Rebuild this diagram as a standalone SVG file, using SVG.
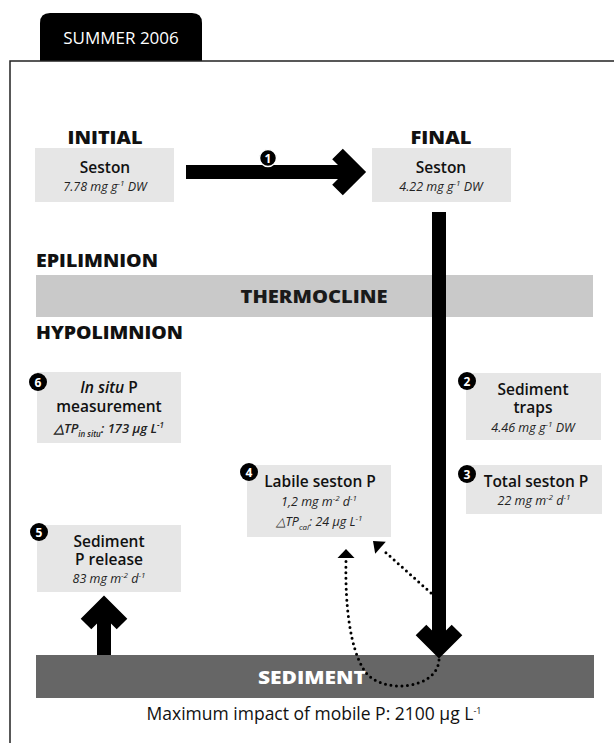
<svg xmlns="http://www.w3.org/2000/svg" width="614" height="743" viewBox="0 0 614 743">
<style>
text{font-family:"Open Sans","Liberation Sans",sans-serif;fill:#111}
.h{font-weight:800;font-size:17px}
.t{font-weight:600;font-size:15.5px;text-anchor:middle}
.v{font-style:italic;font-size:12.5px;text-anchor:middle;fill:#222}
.box{fill:#e6e6e6}
.num{fill:#fff;font-weight:700;font-size:12px;text-anchor:middle}
.chev{fill:none;stroke:#000;stroke-width:15;stroke-linejoin:miter;stroke-miterlimit:4}
.dot{fill:none;stroke:#000;stroke-width:3;stroke-linecap:round;stroke-dasharray:0 5.5}
</style>
<rect width="614" height="743" fill="#fff"/>
<g id="tab">
<path d="M40,61 V23 Q40,13 50,13 H192 Q202,13 202,23 V61 Z" fill="#000"/>
<text x="121" y="44" text-anchor="middle" style="fill:#fff;font-size:17px">SUMMER 2006</text>
</g>
<path id="frame" d="M10,743 V61 H614" fill="none" stroke="#222" stroke-width="1.5"/>
<g id="labels">
<text class="h" x="105" y="144" text-anchor="middle" textLength="75" lengthAdjust="spacingAndGlyphs">INITIAL</text>
<text class="h" x="441" y="144" text-anchor="middle" textLength="61" lengthAdjust="spacingAndGlyphs">FINAL</text>
<text class="h" x="36" y="267" textLength="122" lengthAdjust="spacingAndGlyphs">EPILIMNION</text>
<text class="h" x="36" y="339" textLength="147" lengthAdjust="spacingAndGlyphs">HYPOLIMNION</text>
</g>
<g id="thermocline">
<rect x="36" y="275" width="557" height="42" fill="#c9c9c9"/>
<text class="h" x="314" y="303" text-anchor="middle" textLength="147" lengthAdjust="spacingAndGlyphs" style="fill:#1a1a1a">THERMOCLINE</text>
</g>
<g id="sediment">
<rect x="36" y="655" width="558" height="43" fill="#666"/>
<text class="h" x="312" y="684" text-anchor="middle" textLength="108" lengthAdjust="spacingAndGlyphs" style="fill:#fff">SEDIMENT</text>
</g>
<g id="initial">
<rect class="box" x="35" y="148" width="139" height="54"/>
<text class="t" x="105" y="173">Seston</text>
<text class="v" x="105" y="191">7.78 mg g<tspan dy="-5" font-size="8">-1</tspan><tspan dy="5"> DW</tspan></text>
</g>
<g id="final">
<rect class="box" x="372" y="148" width="139" height="54"/>
<text class="t" x="441" y="173">Seston</text>
<text class="v" x="441" y="191">4.22 mg g<tspan dy="-5" font-size="8">-1</tspan><tspan dy="5"> DW</tspan></text>
</g>
<g id="insitu">
<rect class="box" x="37" y="372" width="144" height="71"/>
<text class="t" x="109" y="393"><tspan font-style="italic">In situ</tspan> P</text>
<text class="t" x="109" y="412">measurement</text>
<text class="v" x="109" y="433" style="font-weight:600;font-size:13px">△TP<tspan dy="4" font-size="8">in situ</tspan><tspan dy="-4">: 173 µg L</tspan><tspan dy="-5" font-size="8">-1</tspan></text>
<circle cx="38" cy="382" r="9" fill="#000"/>
<text class="num" x="38" y="386.5">6</text>
</g>
<g id="traps">
<rect class="box" x="466" y="373" width="135" height="67"/>
<text class="t" x="533" y="395">Sediment</text>
<text class="t" x="533" y="413">traps</text>
<text class="v" x="533" y="432">4.46 mg g<tspan dy="-5" font-size="8">-1</tspan><tspan dy="5"> DW</tspan></text>
<circle cx="467" cy="381" r="9" fill="#000"/>
<text class="num" x="467" y="385.5">2</text>
</g>
<g id="total">
<rect class="box" x="466" y="465" width="136" height="49"/>
<text class="t" x="536" y="487">Total seston P</text>
<text class="v" x="534" y="505">22 mg m<tspan dy="-5" font-size="8">-2</tspan><tspan dy="5"> d</tspan><tspan dy="-5" font-size="8">-1</tspan></text>
<circle cx="467" cy="474" r="9" fill="#000"/>
<text class="num" x="467" y="478.5">3</text>
</g>
<g id="labile">
<rect class="box" x="247" y="465" width="144" height="72"/>
<text class="t" x="320" y="487">Labile seston P</text>
<text class="v" x="319" y="506">1,2 mg m<tspan dy="-5" font-size="8">-2</tspan><tspan dy="5"> d</tspan><tspan dy="-5" font-size="8">-1</tspan></text>
<text class="v" x="319" y="526">△TP<tspan dy="4" font-size="8">cal</tspan><tspan dy="-4">: 24 µg L</tspan><tspan dy="-5" font-size="8">-1</tspan></text>
<circle cx="249" cy="472" r="9" fill="#000"/>
<text class="num" x="249" y="476.5">4</text>
</g>
<g id="release">
<rect class="box" x="37" y="525" width="144" height="67"/>
<text class="t" x="109" y="547">Sediment</text>
<text class="t" x="109" y="565">P release</text>
<text class="v" x="109" y="583">83 mg m<tspan dy="-5" font-size="8">-2</tspan><tspan dy="5"> d</tspan><tspan dy="-5" font-size="8">-1</tspan></text>
<circle cx="39" cy="532" r="9" fill="#000"/>
<text class="num" x="39" y="536.5">5</text>
</g>
<g id="connectors">
<g id="arrow1">
<rect x="186" y="165" width="164" height="14" fill="#000"/>
<polyline class="chev" points="337.5,154 355.5,172 337.5,190"/>
<circle cx="268" cy="158" r="8.5" fill="#000" stroke="#fff" stroke-width="1.5"/>
<text class="num" x="268" y="162.5">1</text>
</g>
<g id="arrow-down">
<rect x="432" y="212" width="14" height="438" fill="#000"/>
<polyline class="chev" points="421,630 439,648 457,630"/>
</g>
<g id="arrow-up">
<rect x="97" y="610" width="14" height="45" fill="#000"/>
<polyline class="chev" points="86,624 104,606 122,624"/>
</g>
<g id="dotted">
<path class="dot" d="M431,593 L383,550"/>
<polygon points="373,541 375.2,553.7 385.8,541.7" fill="#000"/>
<path class="dot" d="M439,660 C437,690 380,695 364,670 C350,648 345,605 346,561"/>
<polygon points="346,549 337.5,558 354.5,558" fill="#000"/>
</g>
</g>
<text id="caption" x="314" y="720" text-anchor="middle" style="font-size:17.5px">Maximum impact of mobile P: 2100 µg L<tspan dy="-6" font-size="9">-1</tspan></text>
</svg>
